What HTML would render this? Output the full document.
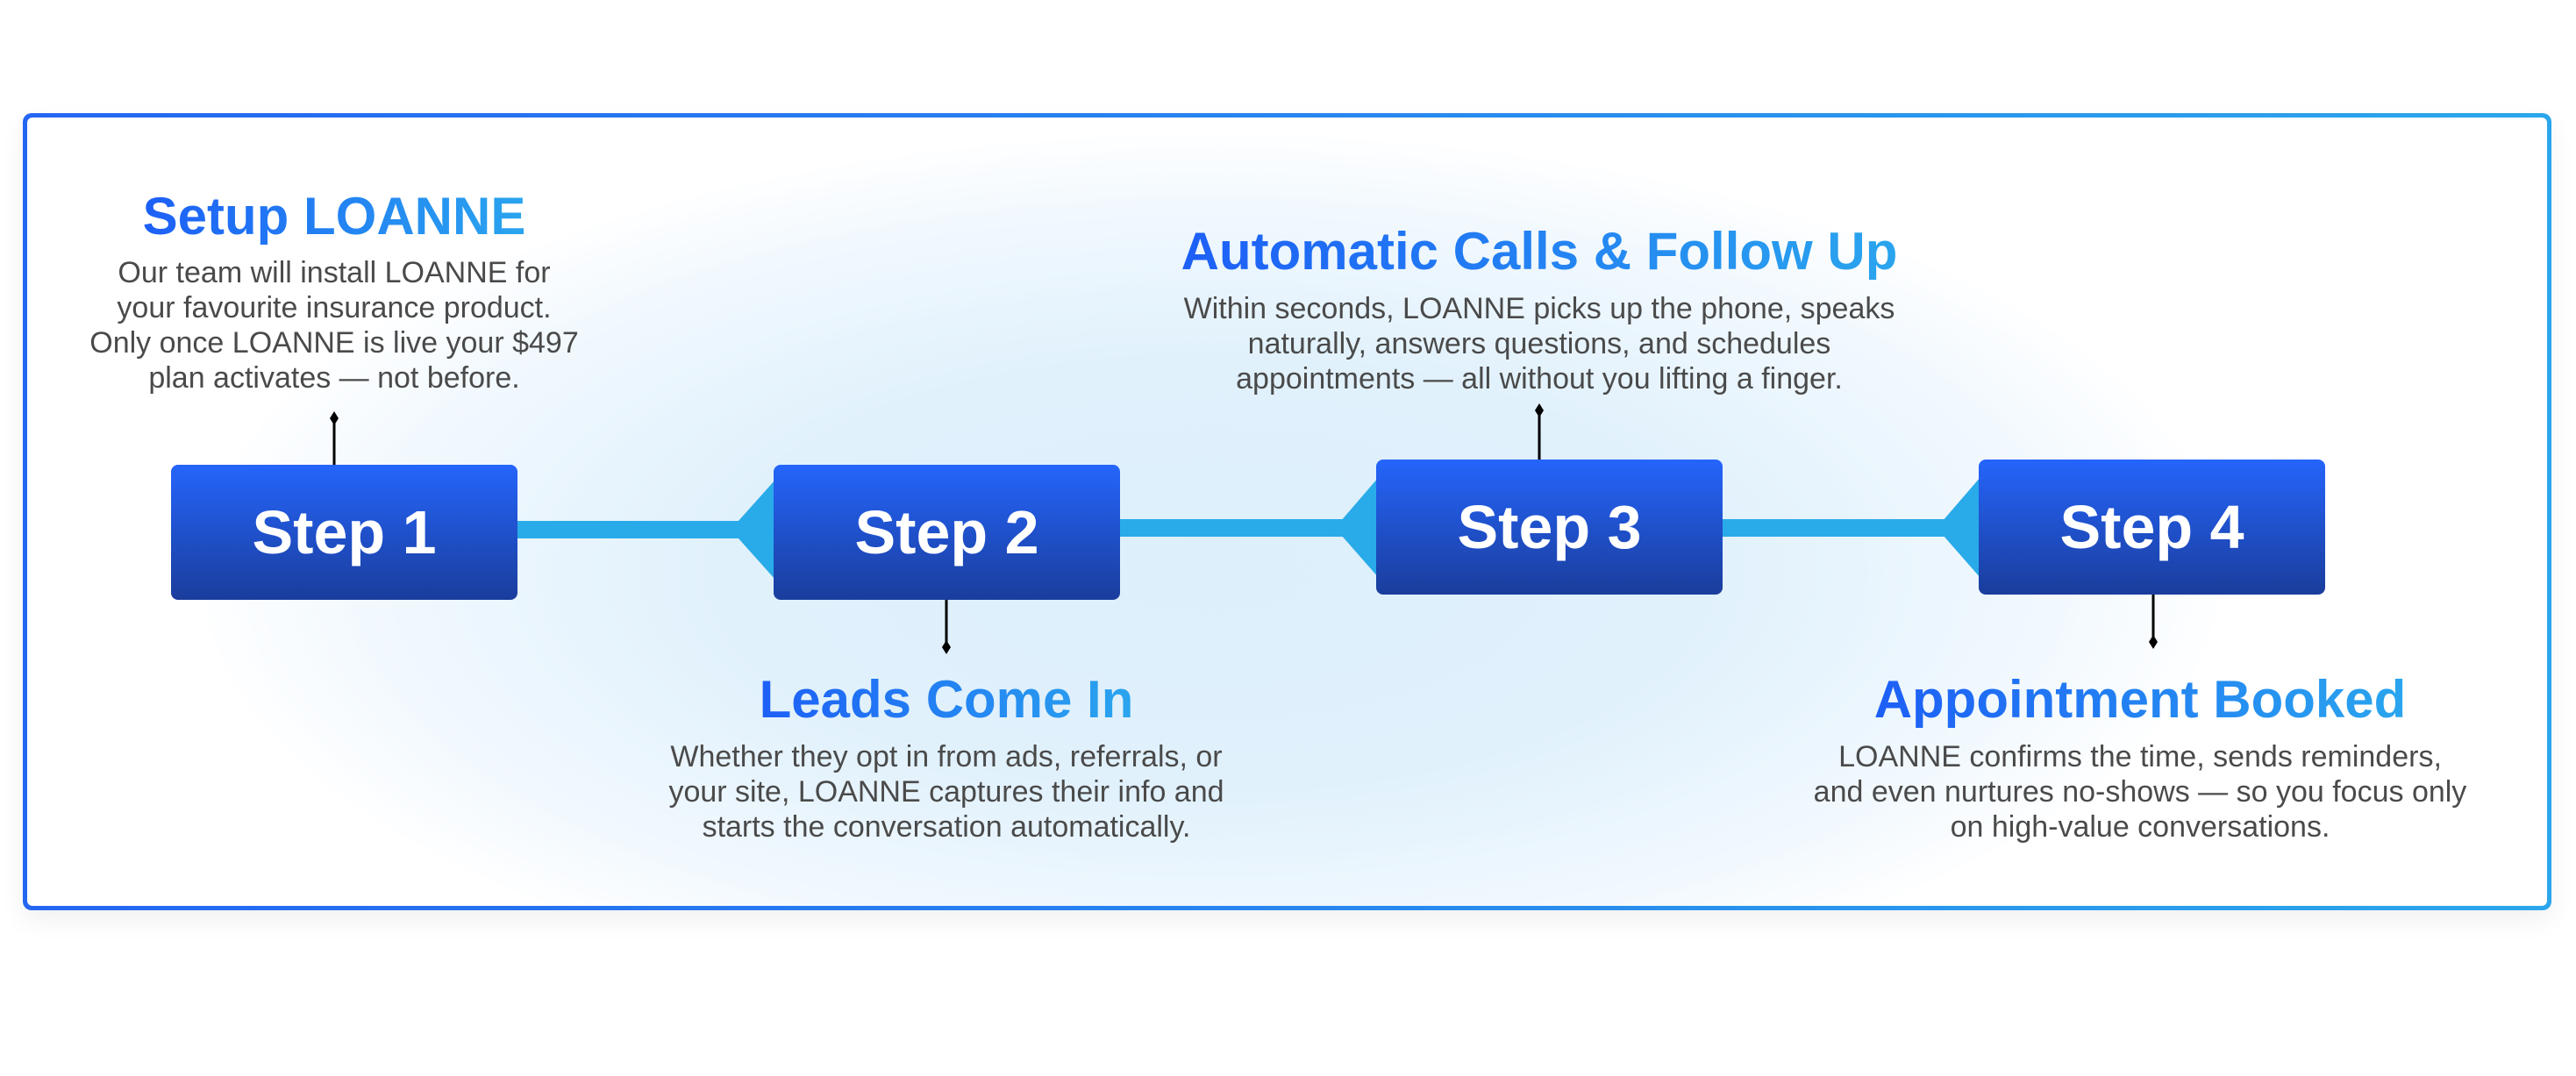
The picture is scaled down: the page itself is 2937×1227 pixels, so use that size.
<!DOCTYPE html>
<html><head><meta charset="utf-8"><style>
html,body{margin:0;padding:0;}
body{width:2937px;height:1227px;position:relative;background:#fff;overflow:hidden;font-family:"Liberation Sans",sans-serif;}
.frame{position:absolute;left:26px;top:129px;width:2883px;height:909px;box-sizing:border-box;border-radius:10px;padding:5px;background:linear-gradient(90deg,#2466f2,#2aa6ec);box-shadow:0 12px 30px rgba(0,0,0,0.06);}
.inner{width:100%;height:100%;border-radius:6px;background:#fff;position:relative;overflow:hidden;}
.glow{position:absolute;left:200px;top:20px;width:2300px;height:1000px;border-radius:50%;background:radial-gradient(ellipse at center,#dceffb 0%,#e1f1fc 35%,rgba(240,248,254,0.85) 60%,rgba(255,255,255,0) 72%);}
.box{position:absolute;width:395px;height:154px;border-radius:8px;background:linear-gradient(180deg,#2565fb,#1a3d9c);color:#fff;font-weight:bold;font-size:70px;display:flex;align-items:center;justify-content:center;}
.t{position:absolute;text-align:center;transform:translateX(-50%);white-space:nowrap;}
.h{font-weight:bold;font-size:60px;line-height:64px;background:linear-gradient(90deg,#1d5ff6,#2aa5ee);-webkit-background-clip:text;background-clip:text;color:transparent;}
.p{font-size:34px;line-height:40px;color:#4a4a4a;}
</style></head><body>
<div class="frame"><div class="inner"><div class="glow"></div></div></div>

<svg style="position:absolute;left:0;top:0" width="2937" height="1227">
<rect x="590" y="594" width="300" height="20" fill="#29abe9"/>
<polygon points="833,604 884,547 884,661" fill="#29abe9"/>
<rect x="1277" y="592" width="300" height="20" fill="#29abe9"/>
<polygon points="1522,602 1572,544 1572,659" fill="#29abe9"/>
<rect x="1963" y="592" width="300" height="20" fill="#29abe9"/>
<polygon points="2208,602 2258,544 2258,659" fill="#29abe9"/>
<line x1="381" y1="477" x2="381" y2="531" stroke="#000" stroke-width="3"/>
<polygon points="381,469 386,477 381,485 376,477" fill="#000"/>
<line x1="1079" y1="683" x2="1079" y2="738" stroke="#000" stroke-width="3"/>
<polygon points="1079,730 1084,738 1079,746 1074,738" fill="#000"/>
<line x1="1755" y1="468" x2="1755" y2="525" stroke="#000" stroke-width="3"/>
<polygon points="1755,460 1760,468 1755,476 1750,468" fill="#000"/>
<line x1="2455" y1="678" x2="2455" y2="732" stroke="#000" stroke-width="3"/>
<polygon points="2455,724 2460,732 2455,740 2450,732" fill="#000"/>
</svg>

<div class="box" style="left:195px;top:530px;">Step 1</div>
<div class="box" style="left:882px;top:530px;">Step 2</div>
<div class="box" style="left:1569px;top:524px;">Step 3</div>
<div class="box" style="left:2256px;top:524px;">Step 4</div>

<div class="t h" style="left:381px;top:215px;">Setup LOANNE</div>
<div class="t p" style="left:381px;top:291px;">Our team will install LOANNE for<br>your favourite insurance product.<br>Only once LOANNE is live your $497<br>plan activates — not before.</div>

<div class="t h" style="left:1755px;top:255px;">Automatic Calls &amp; Follow Up</div>
<div class="t p" style="left:1755px;top:332px;">Within seconds, LOANNE picks up the phone, speaks<br>naturally, answers questions, and schedules<br>appointments — all without you lifting a finger.</div>

<div class="t h" style="left:1079px;top:766px;">Leads Come In</div>
<div class="t p" style="left:1079px;top:843px;">Whether they opt in from ads, referrals, or<br>your site, LOANNE captures their info and<br>starts the conversation automatically.</div>

<div class="t h" style="left:2440px;top:766px;">Appointment Booked</div>
<div class="t p" style="left:2440px;top:843px;">LOANNE confirms the time, sends reminders,<br>and even nurtures no-shows — so you focus only<br>on high-value conversations.</div>
</body></html>
